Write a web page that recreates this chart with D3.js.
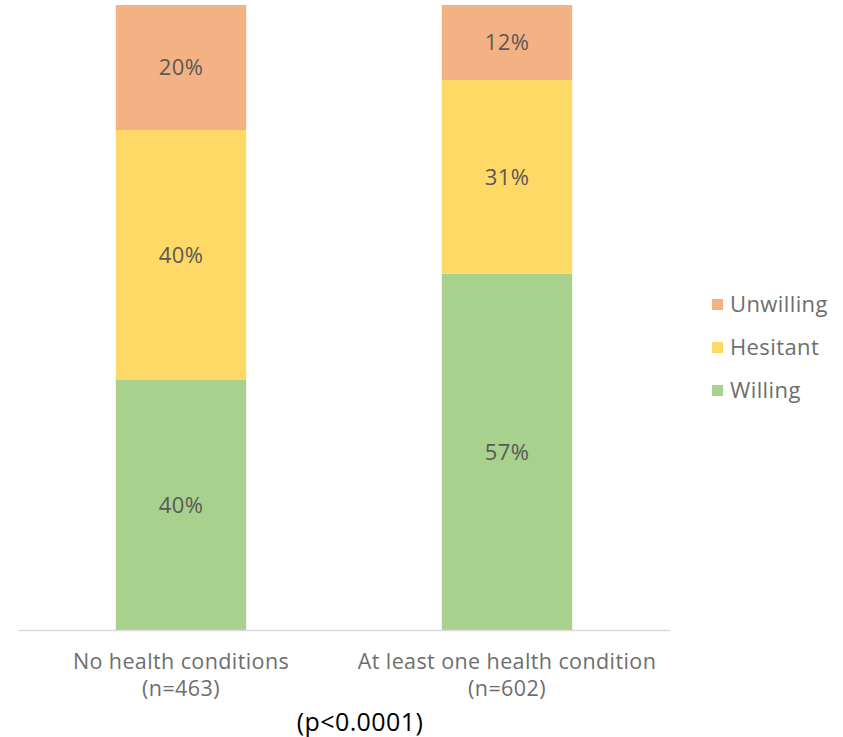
<!DOCTYPE html>
<html>
<head>
<meta charset="utf-8">
<script src="https://cdn.jsdelivr.net/npm/d3@7"></script>
<style>
  body { margin: 0; background: #fff; }
  text { font-family: "Open Sans", "Noto Sans", sans-serif; letter-spacing: 0.4px; }
</style>
</head>
<body>
<script>
// chart data
var categories = ["No health conditions", "At least one health condition"];
var sampleSizes = ["(n=463)", "(n=602)"];
var series = ["Willing", "Hesitant", "Unwilling"];
var willing = [40, 57];
var hesitant = [40, 31];
var unwilling = [20, 12];
var pValue = "(p<0.0001)";

var colors = { Willing: "#A9D18E", Hesitant: "#FFD966", Unwilling: "#F4B183" };

window.onload = function(){
    var w = 843, h = 737;
    var svg = d3.select("body").append("svg")
      .attr("width", w)
      .attr("height", h);

    // build rows for the stack
    var rows = categories.map(function(c, i){
        return { cat: c, Willing: willing[i], Hesitant: hesitant[i], Unwilling: unwilling[i] };
    });
    var stacked = d3.stack().keys(series)(rows);

    var x = d3.scaleBand().domain(categories).range([18, 670])
      .paddingInner(0.6).paddingOuter(0.3);
    var y = d3.scaleLinear().domain([0, 100]).range([630, 5]);

    var layers = svg.selectAll("g.layer").data(stacked).enter()
      .append("g").attr("class", "layer")
      .attr("fill", function(d){ return colors[d.key]; });

    layers.selectAll("rect").data(function(d){ return d; }).enter()
      .append("rect")
      .attr("x", function(d){ return x(d.data.cat); })
      .attr("width", x.bandwidth())
      .attr("y", function(d){ return y(d[1]); })
      .attr("height", function(d){ return y(d[0]) - y(d[1]); });

    // value labels
    layers.selectAll("text").data(function(d){ return d; }).enter()
      .append("text")
      .attr("x", function(d){ return x(d.data.cat) + x.bandwidth() / 2; })
      .attr("y", function(d){ return (y(d[0]) + y(d[1])) / 2; })
      .attr("dy", "0.35em")
      .attr("text-anchor", "middle")
      .attr("font-size", 22)
      .attr("fill", "#595959")
      .text(function(d){ return (d[1] - d[0]) + "%"; });

    // baseline axis
    var axis = svg.append("g").attr("transform", "translate(0,630)")
      .call(d3.axisBottom(x).tickSize(0).tickFormat(""));
    axis.select(".domain").attr("stroke", "#D9D9D9").attr("stroke-width", 1.5);

    // category labels (two lines each)
    var labelRows = svg.append("g").selectAll("g").data(categories).enter()
      .append("g")
      .attr("transform", function(d){ return "translate(" + (x(d) + x.bandwidth() / 2) + ",0)"; });
    labelRows.append("text")
      .attr("y", 669)
      .attr("text-anchor", "middle")
      .attr("font-size", 21.5)
      .attr("fill", "#6E6E6E")
      .text(function(d){ return d; });
    labelRows.append("text")
      .attr("y", 696)
      .attr("text-anchor", "middle")
      .attr("font-size", 21.5)
      .attr("fill", "#6E6E6E")
      .text(function(d, i){ return sampleSizes[i]; });

    svg.append("text")
      .attr("x", 360).attr("y", 731)
      .attr("text-anchor", "middle")
      .attr("font-size", 25)
      .attr("fill", "#000")
      .text(pValue);

    // legend
    var legend = svg.append("g").selectAll("g").data(series.slice().reverse()).enter()
      .append("g")
      .attr("transform", function(d, i){ return "translate(712," + (304 + i * 43) + ")"; });
    legend.append("rect")
      .attr("x", 0).attr("y", -5).attr("width", 11).attr("height", 11)
      .attr("fill", function(d){ return colors[d]; });
    legend.append("text")
      .attr("x", 18).attr("dy", "0.35em")
      .attr("font-size", 22)
      .attr("fill", "#6E6E6E")
      .text(function(d){ return d; });
};
</script>
</body>
</html>
